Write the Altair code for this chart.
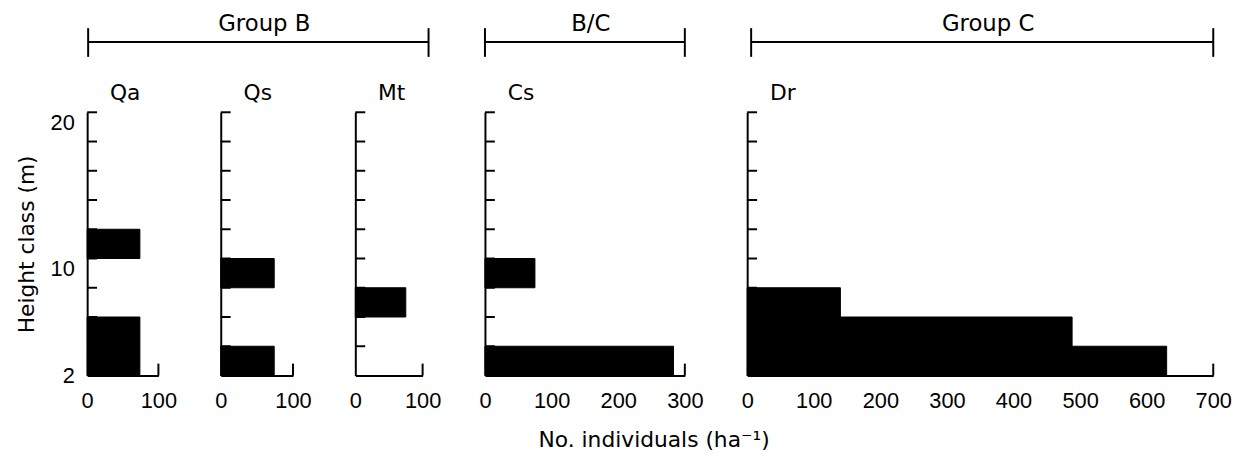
import altair as alt
import pandas as pd

FONT = "DejaVu Sans"
NUM_FONT = "Liberation Sans Narrow, Arial Narrow, Liberation Sans"

# ---- data (height class bounds in m, individuals per ha) ----
species = ["Qa", "Qs", "Mt", "Cs", "Dr"]

qa_lo = [2, 4, 10]
qa_hi = [4, 6, 12]
qa_val = [74, 74, 74]

qs_lo = [2, 8]
qs_hi = [4, 10]
qs_val = [74, 74]

mt_lo = [6]
mt_hi = [8]
mt_val = [75]

cs_lo = [2, 8]
cs_hi = [4, 10]
cs_val = [283, 75]

dr_lo = [2, 4, 6]
dr_hi = [4, 6, 8]
dr_val = [630, 488, 140]

x_max = [100, 100, 100, 300, 700]
x_tick_labels = [
    [0, 100],
    [0, 100],
    [0, 100],
    [0, 100, 200, 300],
    [0, 100, 200, 300, 400, 500, 600, 700],
]
y_tick_marks = [4, 6, 8, 10, 12, 14, 16, 18, 20]
y_tick_labels = [2, 10, 20]

groups = ["Group B", "B/C", "Group C"]

# ---- layout ----
H = 266
SP = 63
widths = [72, 73, 68, 202, 471]


def panel(name, lo, hi, vals, xmax, xticks, width, first, bracket=None):
    xscale = alt.Scale(domain=[0, xmax], nice=False, zero=True)
    yscale = alt.Scale(domain=[2, 20], nice=False, zero=False)
    xaxis = alt.Axis(
        values=xticks, title=None, grid=False, ticks=False, domain=True,
        domainColor="black", domainWidth=2, labelFont=NUM_FONT,
        labelFontSize=22, labelColor="black", labelPadding=15, labelAngle=0,
        format="d", labelFlush=False, labelOverlap=False,
    )
    yaxis = alt.Axis(
        values=y_tick_labels, title="Height class (m)" if first else None,
        labels=first, grid=False, ticks=False, domain=True,
        domainColor="black", domainWidth=2, labelFont=NUM_FONT,
        labelFontSize=22, labelColor="black", labelPadding=13,
        labelBaseline={"condition": {"test": "datum.value == 2", "value": "middle"}, "value": "top"},
        titleFont=FONT, titleFontSize=22, titleFontWeight="normal",
        titleColor="black", titlePadding=12,
    )
    df = pd.DataFrame({"lo": lo, "hi": hi, "val": vals, "zero": [0] * len(lo)})
    bars = alt.Chart(df).mark_bar(color="black", stroke="black", strokeWidth=1,
                                  cornerRadius=0).encode(
        x=alt.X("zero:Q", scale=xscale, axis=xaxis),
        x2="val:Q",
        y=alt.Y("lo:Q", scale=yscale, axis=yaxis),
        y2="hi:Q",
    )
    # inward height-class tick marks along the y axis
    ticks = alt.Chart(pd.DataFrame({"h": y_tick_marks})).mark_tick(
        color="black", orient="horizontal", size=10, thickness=2, opacity=1
    ).encode(
        y=alt.Y("h:Q", scale=yscale, axis=yaxis),
        x=alt.value(5),
    )
    # small upward tick closing the x axis at its maximum
    endtick = alt.Chart(pd.DataFrame({"m": [xmax]})).mark_tick(
        color="black", orient="vertical", size=12, thickness=2, opacity=1
    ).encode(
        x=alt.X("m:Q", scale=xscale, axis=xaxis),
        y=alt.value(H - 6),
    )
    label = alt.Chart(pd.DataFrame({"name": [name]})).mark_text(
        font=FONT, fontSize=22, align="left", baseline="alphabetic", color="black"
    ).encode(text="name:N", x=alt.value(23), y=alt.value(-12))
    layers = [bars, ticks, endtick, label]
    if bracket is not None:
        gname, x0, x1 = bracket
        gdf = pd.DataFrame({"g": [gname]})
        base = alt.Chart(gdf)
        layers += [
            base.mark_rule(color="black", strokeWidth=2).encode(
                x=alt.value(x0), x2=alt.value(x1), y=alt.value(-71)),
            base.mark_rule(color="black", strokeWidth=2).encode(
                x=alt.value(x0), y=alt.value(-85), y2=alt.value(-56)),
            base.mark_rule(color="black", strokeWidth=2).encode(
                x=alt.value(x1), y=alt.value(-85), y2=alt.value(-56)),
            base.mark_text(font=FONT, fontSize=23, align="center",
                           baseline="alphabetic", color="black").encode(
                text="g:N", x=alt.value((x0 + x1) / 2 + 6), y=alt.value(-82)),
        ]
    return alt.layer(*layers).properties(
        width=width, height=H,
        view=alt.ViewBackground(strokeWidth=0, strokeOpacity=0),
    )


gB = widths[0] + SP + widths[1] + SP + widths[2] + 6
panels = [
    panel(species[0], qa_lo, qa_hi, qa_val, x_max[0], x_tick_labels[0], widths[0], True,
          (groups[0], 1, gB)),
    panel(species[1], qs_lo, qs_hi, qs_val, x_max[1], x_tick_labels[1], widths[1], False),
    panel(species[2], mt_lo, mt_hi, mt_val, x_max[2], x_tick_labels[2], widths[2], False),
    panel(species[3], cs_lo, cs_hi, cs_val, x_max[3], x_tick_labels[3], widths[3], False,
          (groups[1], 0, widths[3])),
    panel(species[4], dr_lo, dr_hi, dr_val, x_max[4], x_tick_labels[4], widths[4], False,
          (groups[2], 4, widths[4])),
]

chart = alt.hconcat(*panels, spacing=SP, bounds="flush").properties(
    title=alt.TitleParams(
        "No. individuals (ha⁻¹)", orient="bottom", anchor="middle",
        font=FONT, fontSize=22, fontWeight="normal", color="black", offset=19,
        dx=31,
    ),
    padding={"left": 7, "top": 3, "right": 5, "bottom": 5},
).configure_view(
    stroke="white", strokeWidth=0, strokeOpacity=0
).configure_axis(
    grid=False, gridOpacity=0
).configure(background="white")

chart.save("out.html", embed_options={"renderer": "svg", "actions": False})
